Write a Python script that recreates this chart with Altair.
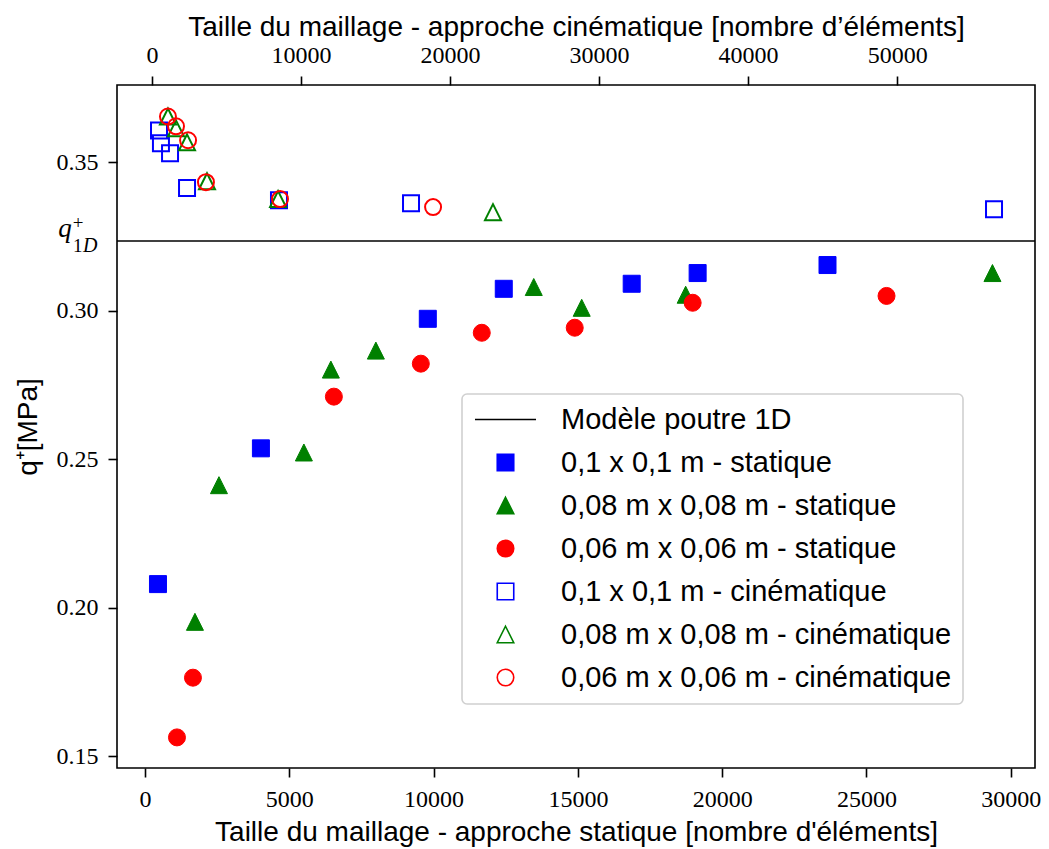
import altair as alt
import pandas as pd

# ---------------- data ----------------
Q1D = 0.3235  # Modèle poutre 1D

# approche statique (bottom axis) - filled markers
sq_stat_x = [450, 4017, 9800, 12432, 16865, 19150, 23650]
sq_stat_y = [0.2080, 0.2537, 0.2973, 0.3074, 0.3091, 0.3127, 0.3154]
tri_stat_x = [1731, 2563, 5506, 6441, 8000, 13471, 15133, 18735, 29366]
tri_stat_y = [0.1953, 0.2413, 0.2523, 0.2802, 0.2866, 0.3080, 0.3010, 0.3054, 0.3127]
circ_stat_x = [1108, 1662, 6545, 9558, 11670, 14891, 18977, 25695]
circ_stat_y = [0.1564, 0.1765, 0.2711, 0.2822, 0.2926, 0.2943, 0.3027, 0.3050]

# approche cinématique (top axis) - open markers
sq_cin_x = [470, 600, 1210, 2350, 8520, 17380, 56500]
sq_cin_y = [0.3607, 0.3564, 0.3530, 0.3413, 0.3372, 0.3362, 0.3342]
tri_cin_x = [1070, 1610, 2350, 3690, 8460, 22880]
tri_cin_y = [0.3654, 0.3614, 0.3567, 0.3436, 0.3376, 0.3332]
circ_cin_x = [1070, 1610, 2420, 3620, 8590, 18860]
circ_cin_y = [0.3654, 0.3621, 0.3574, 0.3433, 0.3376, 0.3349]

LINE_LABEL = "Modèle poutre 1D"
series_labels = [
    "0,1 x 0,1 m - statique",
    "0,08 m x 0,08 m - statique",
    "0,06 m x 0,06 m - statique",
    "0,1 x 0,1 m - cinématique",
    "0,08 m x 0,08 m - cinématique",
    "0,06 m x 0,06 m - cinématique",
]

x_bottom_ticks = [0, 5000, 10000, 15000, 20000, 25000, 30000]
x_top_ticks = [0, 10000, 20000, 30000, 40000, 50000]
y_ticks = [0.15, 0.20, 0.25, 0.30, 0.35]

# ---------------- tables ----------------
def frame(xs, ys, label, xname):
    return pd.DataFrame({xname: xs, "q": ys, "serie": [label] * len(xs)})

stat_df = pd.concat([
    frame(sq_stat_x, sq_stat_y, series_labels[0], "n"),
    frame(tri_stat_x, tri_stat_y, series_labels[1], "n"),
    frame(circ_stat_x, circ_stat_y, series_labels[2], "n"),
], ignore_index=True)
cin_df = pd.concat([
    frame(sq_cin_x, sq_cin_y, series_labels[3], "n_cin"),
    frame(tri_cin_x, tri_cin_y, series_labels[4], "n_cin"),
    frame(circ_cin_x, circ_cin_y, series_labels[5], "n_cin"),
], ignore_index=True)
ref_df = pd.DataFrame({"q": [Q1D]})

# ---------------- styles ----------------
BLUE, GREEN, RED = "#0000ff", "#008000", "#ff0000"
TRI = "M0,-1L1,1L-1,1Z"
LINE_SYM = "M-3.7,0L3.7,0"
SANS = "Liberation Sans"
SERIF = "Liberation Serif"

domain = [LINE_LABEL] + series_labels
stroke_scale = alt.Scale(domain=domain, range=["black", BLUE, GREEN, RED, BLUE, GREEN, RED])
fill_scale = alt.Scale(domain=domain, range=["transparent", BLUE, GREEN, RED,
                                             "transparent", "transparent", "transparent"])
shape_scale = alt.Scale(domain=domain, range=[LINE_SYM, "square", TRI, "circle",
                                              "square", TRI, "circle"])

W, H = 918, 683

leg = alt.Legend(
    title=None, orient="none", legendX=345, legendY=309,
    fillColor="white", strokeColor="#d0d0d0", cornerRadius=5,
    padding=11, rowPadding=13, symbolOffset=18, labelOffset=41,
    labelFont=SANS, labelFontSize=29, labelColor="black", labelLimit=600,
    symbolSize=272, symbolStrokeWidth=1.6,
)

y_axis = alt.Axis(
    values=y_ticks, format=".2f", title="q⁺[MPa]",
    titleX=-81, titleY=H / 2, titleAngle=270, titleBaseline="alphabetic",
    titleAlign="center", labelPadding=10,
)
y_scale = alt.Scale(domain=[0.1461, 0.3760], nice=False, zero=False)
y_enc = alt.Y("q:Q", scale=y_scale, axis=y_axis)

x_bottom = alt.X(
    "n:Q", scale=alt.Scale(domain=[-970, 30840], nice=False, zero=False),
    axis=alt.Axis(orient="bottom", values=x_bottom_ticks, format="d",
                  title="Taille du maillage - approche statique [nombre d'éléments]",
                  titleY=72, titleBaseline="alphabetic", labelPadding=10),
)
x_top = alt.X(
    "n_cin:Q", scale=alt.Scale(domain=[-2349, 59250], nice=False, zero=False),
    axis=alt.Axis(orient="top", values=x_top_ticks, format="d",
                  title="Taille du maillage - approche cinématique [nombre d’éléments]",
                  titleY=-50, titleBaseline="alphabetic", labelPadding=9),
)

rule = alt.Chart(ref_df).mark_rule(color="black", strokeWidth=1.6).encode(y=y_enc)

filled = alt.Chart(stat_df).mark_point(size=289, strokeWidth=1, opacity=1).encode(
    x=x_bottom, y=y_enc,
    stroke=alt.Stroke("serie:N", scale=stroke_scale, legend=leg),
    fill=alt.Fill("serie:N", scale=fill_scale, legend=leg),
    shape=alt.Shape("serie:N", scale=shape_scale, legend=leg),
)

opened = alt.Chart(cin_df).mark_point(size=256, strokeWidth=2, opacity=1).encode(
    x=x_top, y=y_enc,
    stroke=alt.Stroke("serie:N", scale=stroke_scale, legend=leg),
    fill=alt.Fill("serie:N", scale=fill_scale, legend=leg),
    shape=alt.Shape("serie:N", scale=shape_scale, legend=leg),
)

# q+_1D label next to the reference line
t_q = alt.Chart(ref_df).mark_text(
    text="q", font=SERIF, fontStyle="italic", fontSize=27, align="center",
    baseline="alphabetic", dy=-4, color="black").encode(x=alt.value(-52), y=y_enc)
t_plus = alt.Chart(ref_df).mark_text(
    text="+", font=SERIF, fontSize=19, align="center",
    baseline="middle", dy=-18, color="black").encode(x=alt.value(-39), y=y_enc)
t_1 = alt.Chart(ref_df).mark_text(
    text="1", font=SERIF, fontSize=19, align="left",
    baseline="alphabetic", dy=11, color="black").encode(x=alt.value(-44), y=y_enc)
t_D = alt.Chart(ref_df).mark_text(
    text="D", font=SERIF, fontStyle="italic", fontSize=20, align="left",
    baseline="alphabetic", dy=11, color="black").encode(x=alt.value(-34), y=y_enc)

chart = (
    alt.layer(rule, filled, opened, t_q, t_plus, t_1, t_D)
    .resolve_scale(x="independent")
    .properties(
        width=W, height=H,
        autosize=alt.AutoSizeParams(type="none"),
        padding={"left": 109, "top": 77, "right": 6, "bottom": 80},
        background="white",
    )
    .configure_view(stroke="black", strokeWidth=1.6)
    .configure_legend(strokeWidth=1.6)
    .configure_axis(
        domain=False, grid=False, ticks=True, tickColor="black", tickWidth=1.6,
        tickSize=9, labelFont=SERIF, labelFontSize=24, labelColor="black",
        titleFont=SANS, titleFontSize=28, titleFontWeight="normal", titleColor="black",
    )
)

chart.save("out.html", embed_options={"renderer": "svg", "actions": False})
